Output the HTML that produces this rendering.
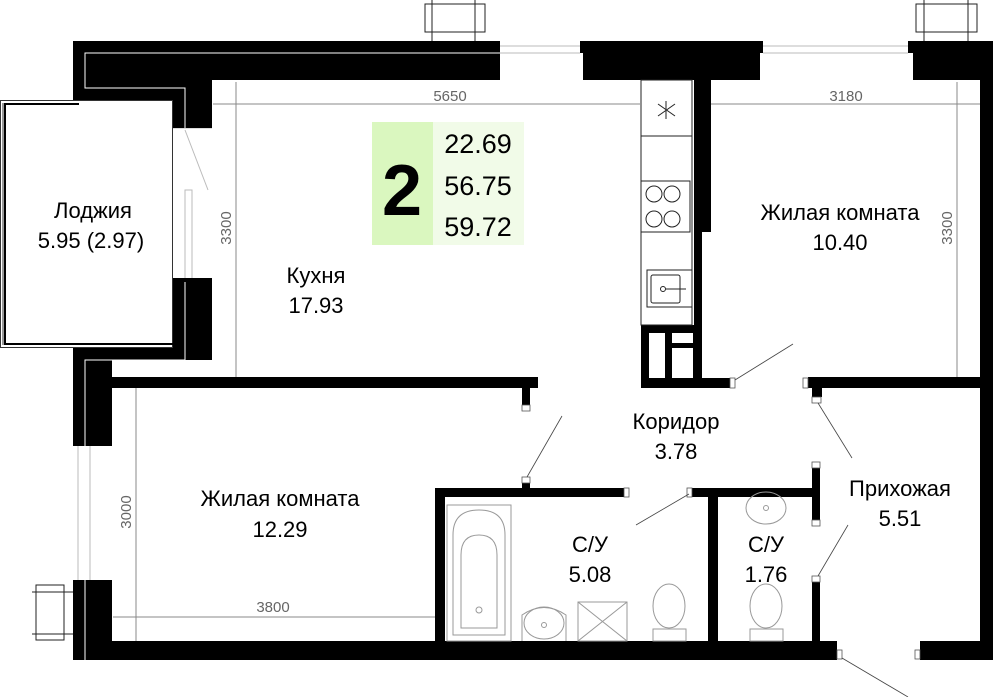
<!DOCTYPE html>
<html><head><meta charset="utf-8"><style>
html,body{margin:0;padding:0;background:#fff;}
svg{display:block}
text{font-family:"Liberation Sans Narrow","Liberation Sans",sans-serif;}
</style></head><body>
<svg width="1000" height="697" viewBox="0 0 1000 697" xmlns="http://www.w3.org/2000/svg">
<!-- railings top -->
<g fill="none" stroke="#222" stroke-width="1">
<rect x="425" y="4" width="60" height="28"/><line x1="432" y1="0" x2="432" y2="41"/><line x1="475" y1="0" x2="475" y2="41"/>
<rect x="916" y="4" width="61" height="28"/><line x1="924" y1="0" x2="924" y2="41"/><line x1="968" y1="0" x2="968" y2="41"/>
<rect x="36" y="585" width="28" height="55"/><line x1="32" y1="592" x2="73" y2="592"/><line x1="32" y1="634" x2="73" y2="634"/>
</g>
<!-- window gaps lines -->
<g stroke="#bbb" stroke-width="1" fill="none">
<line x1="500" y1="46" x2="580" y2="46"/><line x1="500" y1="53" x2="580" y2="53"/>
<line x1="763" y1="46" x2="908" y2="46"/><line x1="763" y1="53" x2="908" y2="53"/>
<line x1="78" y1="446" x2="78" y2="580"/><line x1="90" y1="446" x2="90" y2="580"/>
<line x1="173" y1="128" x2="212" y2="128"/><line x1="173" y1="282" x2="212" y2="282"/>
<line x1="185" y1="130" x2="208" y2="190"/><rect x="185" y="190" width="7" height="90"/>
</g>
<!-- walls -->
<g fill="#000">
<rect x="73" y="41" width="427" height="12"/>
<rect x="73" y="53" width="427" height="27"/>
<rect x="73" y="80" width="139" height="20"/>
<rect x="173" y="100" width="39" height="28"/>
<rect x="173" y="278" width="39" height="82"/>
<rect x="212" y="282" width="0" height="0"/>
<rect x="73" y="348" width="139" height="12"/>
<rect x="73" y="360" width="39" height="86"/>
<rect x="112" y="377" width="426" height="11"/>
<rect x="73" y="580" width="39" height="80"/>
<rect x="73" y="641" width="764" height="19"/>
<rect x="580" y="41" width="183" height="12"/>
<rect x="583" y="53" width="177" height="27"/>
<rect x="908" y="41" width="85" height="12"/>
<rect x="913" y="53" width="80" height="27"/>
<rect x="980" y="80" width="13" height="580"/>
<rect x="920" y="641" width="73" height="19"/>
<rect x="694" y="80" width="17" height="152"/>
<rect x="694" y="232" width="8" height="150"/>
<rect x="641" y="325" width="61" height="60"/>
<rect x="641" y="378" width="89" height="10"/>
<rect x="808" y="377" width="185" height="11"/>
<rect x="812" y="388" width="10" height="9"/>
<rect x="522" y="388" width="8" height="17"/>
<rect x="435" y="488" width="189" height="9"/>
<rect x="435" y="488" width="10" height="160"/>
<rect x="522" y="480" width="8" height="10"/>
<rect x="690" y="488" width="130" height="9"/>
<rect x="708" y="488" width="10" height="160"/>
<rect x="812" y="468" width="8" height="52"/>
<rect x="812" y="582" width="8" height="60"/>
</g>
<g fill="#fff">
<rect x="649" y="333" width="16" height="45"/>
<rect x="672" y="333" width="21" height="10"/>
<rect x="672" y="348" width="21" height="30"/>
</g>
<g stroke="#fff" stroke-width="1" fill="none">
<polyline points="85,80 85,53 500,53"/><polyline points="85,80 85,88 185,88 185,128"/>
<polyline points="185,282 185,360 85,360 85,446"/><line x1="85" y1="580" x2="85" y2="660"/>
</g>
<!-- door jambs -->
<g fill="#fff" stroke="#555" stroke-width="0.8">
<rect x="522" y="405" width="8" height="6"/><rect x="522" y="477" width="8" height="6"/>
<rect x="624" y="488" width="5" height="9"/><rect x="687" y="488" width="5" height="9"/>
<rect x="730" y="378" width="5" height="10"/><rect x="803" y="378" width="5" height="10"/>
<rect x="812" y="397" width="9" height="6"/><rect x="812" y="462" width="8" height="6"/>
<rect x="812" y="520" width="8" height="6"/><rect x="812" y="576" width="8" height="6"/>
<rect x="837" y="650" width="5" height="9"/><rect x="915" y="650" width="5" height="9"/>
</g>
<g stroke="#444" stroke-width="0.8" fill="none">
<line x1="527" y1="477" x2="562" y2="416"/>
<line x1="735" y1="380" x2="793" y2="344"/>
<line x1="818" y1="403" x2="852" y2="458"/>
<line x1="689" y1="494" x2="636" y2="525"/>
<line x1="818" y1="576" x2="848" y2="525"/>
<line x1="842" y1="658" x2="908" y2="697"/>
</g>
<!-- loggia -->
<rect x="0.5" y="100.5" width="172" height="247" fill="#fff" stroke="#333"/>
<line x1="3" y1="103" x2="3" y2="345" stroke="#333"/>
<polyline points="79,104 5,104 5,344 173,344" fill="none" stroke="#000" stroke-width="2"/>
<!-- dimensions -->
<g stroke="#888" stroke-width="1" fill="#888">
<line x1="213" y1="104" x2="640" y2="104"/>
<line x1="236" y1="82" x2="236" y2="377"/>
<line x1="711" y1="104" x2="980" y2="104"/>
<line x1="957" y1="82" x2="957" y2="377"/>
<line x1="136" y1="388" x2="136" y2="641"/>
<line x1="113" y1="617" x2="435" y2="617"/>
</g>
<g fill="#666" font-size="15">
<text x="450" y="101" text-anchor="middle">5650</text>
<text x="846" y="101" text-anchor="middle">3180</text>
<text x="273" y="612" text-anchor="middle">3800</text>
<text transform="translate(231,228) rotate(-90)" text-anchor="middle">3300</text>
<text transform="translate(952,228) rotate(-90)" text-anchor="middle">3300</text>
<text transform="translate(131,512) rotate(-90)" text-anchor="middle">3000</text>
</g>
<!-- kitchen furniture -->
<g fill="none" stroke="#222" stroke-width="1">
<rect x="641" y="80" width="51" height="245"/>
<line x1="641" y1="136" x2="692" y2="136"/>
<rect x="641" y="181" width="49" height="51"/>
<circle cx="654" cy="194" r="8"/><circle cx="672" cy="194" r="8"/>
<circle cx="654" cy="219" r="8"/><circle cx="672" cy="219" r="8"/>
<rect x="647" y="270" width="45" height="37"/><rect x="651" y="275" width="29" height="28" rx="2"/>
<circle cx="663" cy="289" r="2.5"/><line x1="666" y1="289" x2="686" y2="289"/>
<line x1="658" y1="104" x2="675" y2="116"/><line x1="658" y1="116" x2="675" y2="104"/><line x1="666" y1="101" x2="666" y2="119"/>
</g>
<!-- bathroom fixtures -->
<g fill="none" stroke="#999" stroke-width="1">
<rect x="447" y="505" width="64" height="136"/>
<path d="M453,635 V535 Q453,510 479,510 Q505,510 505,535 V635 Z"/>
<path d="M461,628 V555 Q461,535 479,535 Q497,535 497,555 V628 Z"/>
<circle cx="479" cy="610" r="3"/>
<path d="M522,641 V615 Q544,600 566,615 V641"/>
<ellipse cx="544" cy="623" rx="20" ry="16"/><circle cx="544" cy="625" r="2.5"/>
<rect x="578" y="602" width="49" height="39"/><line x1="578" y1="602" x2="627" y2="641"/><line x1="627" y1="602" x2="578" y2="641"/>
<ellipse cx="669" cy="606" rx="16" ry="22"/><rect x="653" y="629" width="33" height="12"/>
<ellipse cx="766" cy="606" rx="16" ry="22"/><rect x="750" y="629" width="33" height="12"/>
<ellipse cx="766" cy="508" rx="20" ry="16"/><circle cx="766" cy="508" r="2.5"/>
</g>
<!-- info box -->
<rect x="372" y="122" width="61" height="123" fill="#daf7bf"/>
<rect x="433" y="122" width="91" height="123" fill="#f1fbe8"/>
<text x="402" y="215" font-size="72" font-weight="bold" text-anchor="middle" fill="#000">2</text>
<g font-size="27" text-anchor="middle" fill="#000">
<text x="478" y="153">22.69</text><text x="478" y="195">56.75</text><text x="478" y="236">59.72</text>
</g>
<!-- labels -->
<g font-size="22" text-anchor="middle" fill="#000">
<text x="93" y="218">Лоджия</text><text x="91" y="248">5.95 (2.97)</text>
<text x="316" y="283">Кухня</text><text x="316" y="313">17.93</text>
<text x="840" y="220">Жилая комната</text><text x="840" y="250">10.40</text>
<text x="280" y="506">Жилая комната</text><text x="280" y="537">12.29</text>
<text x="676" y="429">Коридор</text><text x="676" y="459">3.78</text>
<text x="900" y="496">Прихожая</text><text x="900" y="526">5.51</text>
<text x="590" y="552">С/У</text><text x="590" y="582">5.08</text>
<text x="766" y="552">С/У</text><text x="766" y="582">1.76</text>
</g>
</svg>
</body></html>
